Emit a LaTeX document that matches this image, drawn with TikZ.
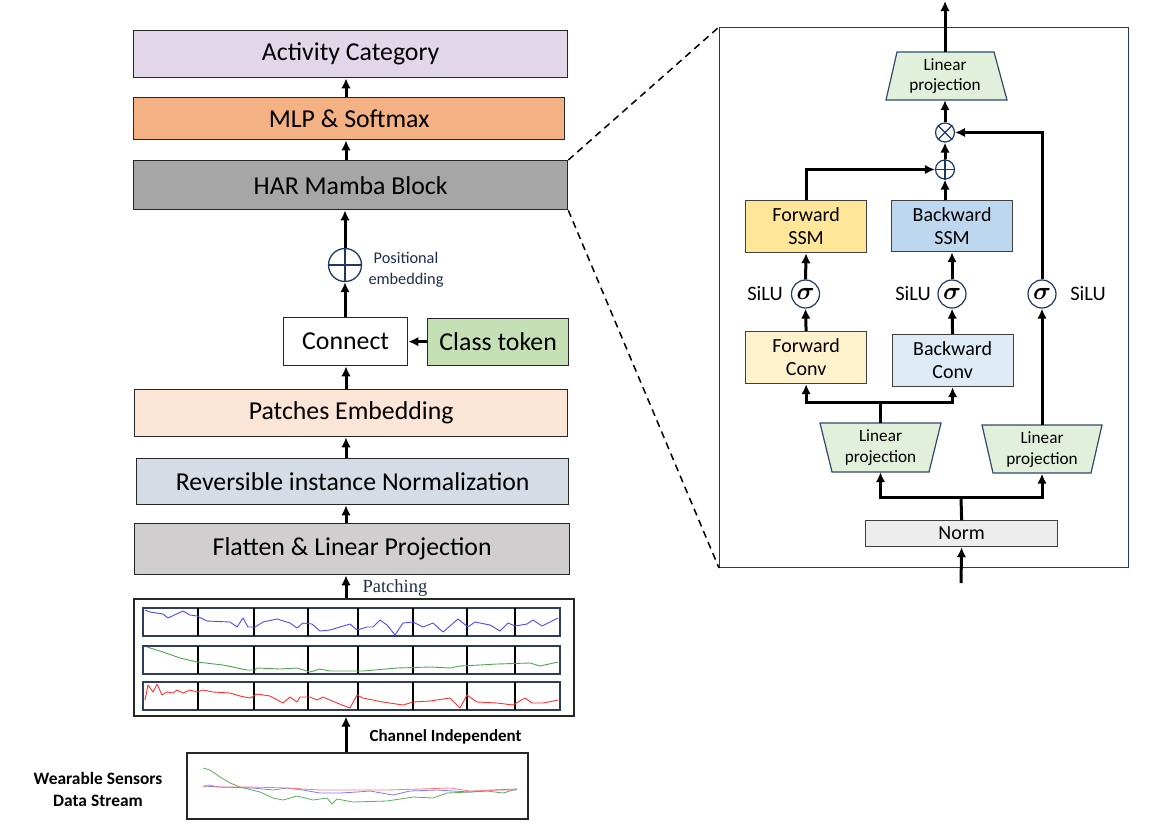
\documentclass[tikz,border=0pt]{standalone}
\usepackage{amsmath,bm}
\usepackage{fontspec}
\setmainfont{Carlito}
\newfontfamily\patchfont{Liberation Serif}
\usetikzlibrary{arrows.meta,calc}
\definecolor{actc}{HTML}{E2D6E9}
\definecolor{mlpc}{HTML}{F4B183}
\definecolor{harc}{HTML}{A6A6A6}
\definecolor{clsc}{HTML}{C5E0B4}
\definecolor{pec}{HTML}{FBE5D6}
\definecolor{revc}{HTML}{D6DCE5}
\definecolor{flc}{HTML}{D0CECE}
\definecolor{normc}{HTML}{EDEDED}
\definecolor{lpc}{HTML}{E2EFDA}
\definecolor{fssmc}{HTML}{FFE699}
\definecolor{fconvc}{HTML}{FFF2CC}
\definecolor{bssmc}{HTML}{BDD7EE}
\definecolor{bconvc}{HTML}{DEEBF7}
\definecolor{navy}{HTML}{203864}
\definecolor{navytext}{HTML}{1F2D4F}
\definecolor{rowc}{HTML}{2F3D5C}
\definecolor{trapc}{HTML}{2F4B6E}
\definecolor{wblue}{HTML}{4A4AFF}
\definecolor{wgreen}{HTML}{4FA84F}
\definecolor{wred}{HTML}{FF3030}
\definecolor{sblue}{HTML}{7A7AFF}
\definecolor{sgreen}{HTML}{5AAE5A}
\definecolor{sred}{HTML}{FF7A7A}
\begin{document}
\begin{tikzpicture}[x=1pt,y=-1pt,
  lbox/.style={draw=black!85, line width=1.3pt, anchor=north west, inner sep=0pt,
    font=\fontsize{25.8}{30}\selectfont, text=black},
  arr/.style={line width=3pt, -{Latex[length=10pt,width=9.5pt]}},
  ln/.style={line width=3pt},
  rbox/.style={draw=black!75, line width=1.2pt, minimum width=121pt, minimum height=52pt,
    anchor=north west, inner sep=0pt, align=center, font=\fontsize{20}{23}\selectfont},
  circ/.style={circle, draw=navy, line width=1.2pt, inner sep=0pt, fill=white},
  lpbox/.style={inner sep=0pt, align=center, font=\fontsize{17.2}{20.5}\selectfont},
  tz/.style={fill=lpc, draw=trapc, line width=1.2pt},
  silu/.style={font=\fontsize{20.5}{24}\selectfont},
  sig/.style={circ, minimum size=28pt, font=\fontsize{26}{26}\selectfont},
  wave/.style={line width=0.9pt, line join=round}
]
\useasboundingbox[fill=white] (0,0) rectangle (1175,825);

% ---------- left column ----------
\coordinate (cx) at (346,0);
\node[lbox, fill=actc, minimum width=434pt, minimum height=47pt] (act) at (133,30) {Activity Category};
\node[lbox, fill=mlpc, minimum width=431pt, minimum height=42pt] (mlp) at (133,97) {MLP \& Softmax};
\node[lbox, fill=harc, minimum width=434pt, minimum height=49pt] (har) at (133,160) {HAR Mamba Block};
\node[circ, minimum size=33pt, line width=1.3pt] (pe) at (345,265) {};
\draw[navy, line width=1.3pt] (pe.north) -- (pe.south) (pe.west) -- (pe.east);
\node[font=\fontsize{16.3}{21}\selectfont, align=center, text=navytext] (pelabel) at (406,270) {Positional\\embedding};
\node[lbox, fill=white, minimum width=124pt, minimum height=48pt] (conn) at (283,317) {Connect};
\node[lbox, fill=clsc, minimum width=141pt, minimum height=47pt] (cls) at (427,317.5) {Class token};
\node[lbox, fill=pec, minimum width=433pt, minimum height=47pt] (patch) at (134,389) {Patches Embedding};
\node[lbox, fill=revc, minimum width=432pt, minimum height=46pt] (rev) at (136,458) {Reversible instance Normalization};
\node[lbox, fill=flc, minimum width=435pt, minimum height=51pt] (flat) at (134,523) {Flatten \& Linear Projection};
\node[draw=black!85, line width=1.5pt, anchor=north west, inner sep=0pt, minimum width=440pt, minimum height=117pt] (pbox) at (133,598) {};
\node[anchor=west, font=\patchfont\fontsize{18.5}{20}\selectfont, text=navytext] (plab) at (359,588) {Patching};
\node[draw=black!85, line width=1.5pt, anchor=north west, inner sep=0pt, minimum width=341pt, minimum height=66pt] (sbox) at (186,752) {};
\node[anchor=west, font=\bfseries\fontsize{17}{20}\selectfont] (cilab) at (366,737) {Channel Independent};
\node[align=center, font=\bfseries\fontsize{17.4}{21.5}\selectfont] (wlab) at (98,789.5) {Wearable Sensors\\Data Stream};

\draw[arr] (mlp.north -| cx) -- (act.south -| cx);
\draw[arr] (har.north -| cx) -- (mlp.south -| cx);
\draw[arr] (pe.north) -- (pe.north |- har.south);
\draw[arr] (conn.north -| pe) -- (pe.south);
\draw[arr] (cls.west) -- (conn.east);
\draw[arr] (patch.north -| cx) -- (conn.south -| cx);
\draw[arr] (rev.north -| cx) -- (patch.south -| cx);
\draw[arr] (flat.north -| cx) -- (rev.south -| cx);
\draw[arr] (pbox.north -| cx) -- (flat.south -| cx);
\draw[arr] (sbox.north -| cx) -- (pbox.south -| cx);

% patch rows
\foreach \ya/\yb in {608/636, 646/674, 682/710}{
  \draw[rowc, line width=1.5pt] (143,\ya) rectangle (560,\yb);
  \foreach \x in {197.7,254,308,358,413,467,515}
    \draw[black, line width=2pt] (\x,\ya) -- (\x,\yb);
}
\draw[wave, wblue] plot coordinates {(145,610) (150,612) (163,614) (168,618) (183,611) (190,615) (197,616) (207,621) (230,622) (237,627) (243,618) (248,627) (255,627) (263,622) (277,619) (290,623) (297,628) (303,623) (312,624) (320,631) (330,630) (350,624) (357,630) (367,627) (373,627) (380,620) (387,625) (395,635) (403,623) (413,622) (423,627) (433,623) (443,632) (458,619) (468,627) (475,622) (490,625) (500,631) (508,623) (515,626) (527,624) (533,620) (542,626) (558,618)};
\draw[wave, wgreen] plot coordinates {(147,647) (163,652) (180,658) (197,662) (223,665) (247,670) (255,670) (257,668) (280,669) (297,668) (310,672) (320,669) (330,671) (363,671) (397,668) (430,667) (450,668) (460,666) (480,665) (497,664) (530,663) (540,666) (558,662)};
\draw[wave, wred] plot coordinates {(145,700) (148,685) (153,692) (157,684) (162,695) (167,692) (173,693) (177,690) (183,693) (190,690) (197,692) (203,690) (213,692) (230,693) (240,696) (250,698) (257,694) (270,696) (283,703) (290,697) (297,702) (300,697) (310,697) (317,700) (323,697) (337,703) (350,708) (357,695) (363,698) (383,702) (403,705) (413,702) (430,701) (450,698) (460,708) (467,695) (477,702) (497,703) (513,705) (525,698) (532,703) (543,703) (558,700)};

% sensor stream
\draw[wave, sgreen, line width=0.8pt] plot coordinates {(203,768) (210,770) (220,777) (230,783) (240,787) (260,792) (273,798) (283,800) (297,796) (313,800) (327,798) (332,804) (337,799) (353,802) (387,801) (413,797) (433,798) (447,793) (470,792) (487,791) (503,793) (517,789)};
\draw[wave, sblue, line width=0.8pt] plot coordinates {(203,786) (220,787) (253,788) (273,790) (287,788) (303,790) (320,793) (340,793) (357,792) (370,791) (393,795) (410,791) (437,790) (453,791) (470,792) (493,790) (517,789)};
\draw[wave, sred, line width=0.8pt] plot coordinates {(203,787) (208,785) (220,787) (253,787) (287,788) (320,790) (353,790) (387,790) (420,789) (450,788) (470,791) (500,790) (517,790)};

% ---------- right panel ----------
\node[draw=navy, line width=1pt, anchor=north west, inner sep=0pt, minimum width=409pt, minimum height=540pt] (panel) at (719,27) {};
\draw[dashed, line width=1.5pt, dash pattern=on 7pt off 5pt] (har.north east) -- (panel.north west);
\draw[dashed, line width=1.5pt, dash pattern=on 7pt off 5pt] (har.south east) -- (panel.south west);

\draw[tz] (897,52) -- (994,52) -- (1007,100) -- (886,100) -- cycle;
\node[lpbox, minimum width=110pt, minimum height=48pt] (lpt) at (945,76) {Linear\\projection};
\node[circ, minimum size=19pt] (mul) at (945,132.5) {};
\draw[navy, line width=1.2pt] (mul.north west) -- (mul.south east) (mul.north east) -- (mul.south west);
\node[circ, minimum size=19pt] (add) at (945,169.5) {};
\draw[navy, line width=1.2pt] (add.north) -- (add.south) (add.west) -- (add.east);

\node[rbox, fill=fssmc] (fssm) at (745,200) {Forward\\SSM};
\node[rbox, fill=bssmc, minimum height=51pt] (bssm) at (891,200) {Backward\\SSM};
\node[sig] (sf) at (805.5,294) {$\bm{\sigma}$};
\node[sig] (sb) at (952,294) {$\bm{\sigma}$};
\node[sig] (sr) at (1042,294) {$\bm{\sigma}$};
\node[silu] (l1) at (765,294) {SiLU};
\node[silu] (l2) at (913,294) {SiLU};
\node[silu] (l3) at (1088,294) {SiLU};
\node[rbox, fill=fconvc] (fconv) at (745,331) {Forward\\Conv};
\node[rbox, fill=bconvc] (bconv) at (891.5,334) {Backward\\Conv};

\draw[tz] (820,423) -- (941,423) -- (929,472) -- (832,472) -- cycle;
\node[lpbox, minimum width=121pt, minimum height=49pt] (lpl) at (880.5,447.5) {Linear\\projection};
\draw[tz] (982,425) -- (1102,425) -- (1091,473) -- (993,473) -- cycle;
\node[lpbox, minimum width=120pt, minimum height=48pt] (lpr) at (1042,449.5) {Linear\\projection};
\node[draw=black!75, line width=1.2pt, fill=normc, anchor=north west, inner sep=0pt, minimum width=192pt, minimum height=26pt, font=\fontsize{20}{23}\selectfont] (norm) at (865,520) {Norm};

\coordinate (out) at (945,1);
\coordinate (in) at (961,583);
\coordinate (j1) at (880.5,402);
\coordinate (j2) at (961,497);
\draw[arr] (lpt.north) -- (out);
\draw[arr] (mul.north) -- (mul |- lpt.south);
\draw[arr] (add.north) -- (mul.south);
\draw[arr] (fssm.north) |- (add.west);
\draw[arr] (add |- bssm.north) -- (add.south);
\draw[arr] (sr.north) |- (mul.east);
\draw[arr] (sf.north) -- (fssm.south);
\draw[arr] (fconv.north) -- (sf.south);
\draw[arr] (sb.north) -- (bssm.south -| sb);
\draw[arr] (bconv.north) -- (sb.south);
\draw[arr] (lpr.north) -- (sr.south);
\draw[ln] (lpl.north) -- (j1);
\draw[arr] (j1) -| (fconv.south);
\draw[arr] (j1) -| (bconv.south);
\draw[ln] (norm.north) -- (j2);
\draw[arr] (j2) -| (lpl.south);
\draw[arr] (j2) -| (lpr.south);
\draw[arr] (in) -- (norm.south);
\end{tikzpicture}
\end{document}
